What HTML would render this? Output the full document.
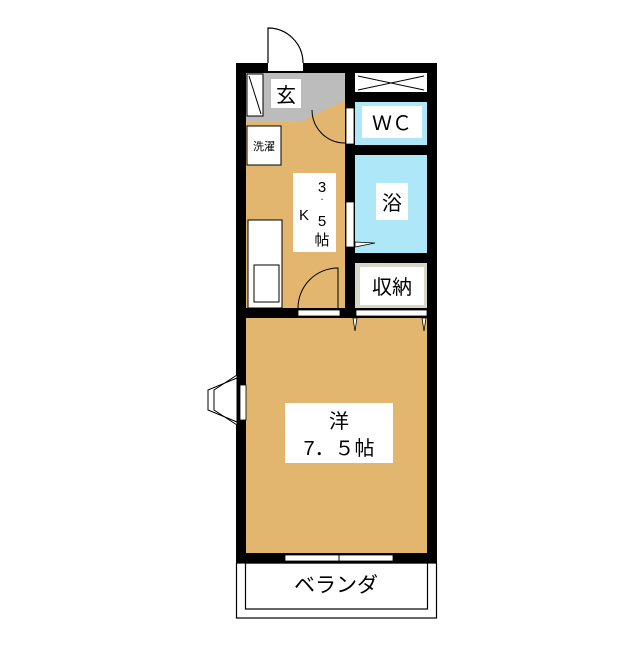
<!DOCTYPE html>
<html><head><meta charset="utf-8"><style>
body{margin:0;background:#fff;}
svg text{font-family:"Liberation Sans","Noto Sans CJK JP",sans-serif;}
</style></head><body>
<svg width="640" height="640" viewBox="0 0 640 640" xmlns="http://www.w3.org/2000/svg">
<rect width="640" height="640" fill="#fff"/>
<!-- floors -->
<rect x="246" y="73" width="99" height="240" fill="#e2b66e"/>
<rect x="246" y="318" width="181" height="235" fill="#e2b66e"/>
<polygon points="246,73 345,73 345,100 300,122 246,122" fill="#bcbcbc"/>
<rect x="355" y="102" width="72" height="43" fill="#aee8f8"/>
<rect x="355" y="155" width="72" height="98" fill="#aee8f8"/>
<rect x="355" y="263" width="72" height="47" fill="#d9d5c9"/>
<!-- closet X -->
<rect x="355" y="73" width="72" height="19" fill="#fff"/>
<line x1="358" y1="76" x2="424" y2="90" stroke="#000" stroke-width="1"/>
<line x1="358" y1="90" x2="424" y2="76" stroke="#000" stroke-width="1"/>
<!-- walls -->
<g fill="#000">
<rect x="236" y="63" width="201" height="10"/>
<rect x="236" y="63" width="10" height="500"/>
<rect x="427" y="63" width="10" height="500"/>
<rect x="345" y="63" width="10" height="255"/>
<rect x="355" y="92" width="72" height="10"/>
<rect x="355" y="145" width="72" height="10"/>
<rect x="355" y="253" width="72" height="10"/>
<rect x="236" y="308" width="201" height="10"/>
<rect x="236" y="553" width="201" height="10"/>
</g>
<!-- entry door -->
<rect x="268" y="63" width="35" height="8" fill="#fff"/>
<path d="M268 63 V28 A35 35 0 0 1 303 63" fill="#fff" stroke="#000" stroke-width="1.2"/>
<!-- genkan shoe box -->
<rect x="247" y="74" width="16" height="42" fill="#fff" stroke="#000" stroke-width="1"/>
<line x1="249" y1="76" x2="261" y2="114" stroke="#000"/>
<!-- WC door -->
<rect x="346" y="108" width="8" height="36" fill="#fff" stroke="#000" stroke-width="0.8"/>
<path d="M345 143 A33 33 0 0 1 312 110" fill="none" stroke="#000" stroke-width="1"/>
<!-- bath door -->
<rect x="346" y="202" width="8" height="45" fill="#fff" stroke="#000" stroke-width="0.8"/>
<polygon points="355,242 375,243 355,247" fill="#fff" stroke="#000" stroke-width="0.8"/>
<!-- laundry -->
<rect x="247" y="126" width="34" height="39" fill="#fff" stroke="#000" stroke-width="1"/>
<text x="264" y="150" font-size="11" text-anchor="middle">洗濯</text>
<!-- kitchen counter -->
<rect x="248" y="220" width="34" height="88" fill="#fff" stroke="#000" stroke-width="1"/>
<rect x="254" y="265" width="25" height="37" fill="#fff" stroke="#000" stroke-width="1"/>
<!-- K door -->
<rect x="298" y="310" width="42" height="6" fill="#fff" stroke="#000" stroke-width="0.8"/>
<path d="M298 308 A40 40 0 0 1 338 268 V308" fill="none" stroke="#000" stroke-width="1"/>
<!-- storage doors -->
<rect x="356" y="310" width="71" height="6" fill="#fff" stroke="#000" stroke-width="0.8"/>
<polygon points="353,318 357,318 355,331" fill="#fff" stroke="#000" stroke-width="0.8"/>
<polygon points="422,318 426,318 424,331" fill="#fff" stroke="#000" stroke-width="0.8"/>
<!-- bay window -->
<rect x="240" y="385" width="6" height="35" fill="#fff" stroke="#000" stroke-width="0.8"/>
<polygon points="237,375 214,390 214,410 237,425" fill="#fff" stroke="#000" stroke-width="1"/>
<polyline points="237,378 208,390 208,410 237,422" fill="none" stroke="#000" stroke-width="1"/>
<line x1="214" y1="390" x2="214" y2="410" stroke="#000"/>
<!-- south window -->
<rect x="285" y="555" width="108" height="6" fill="#fff" stroke="#000" stroke-width="0.8"/>
<line x1="339" y1="553" x2="339" y2="563" stroke="#000"/>
<!-- veranda -->
<rect x="236.5" y="563" width="200" height="55" fill="none" stroke="#000" stroke-width="1.2"/>
<rect x="245.5" y="563" width="182" height="46" fill="none" stroke="#000" stroke-width="1.2"/>
<text x="336" y="592" font-size="21" text-anchor="middle">ベランダ</text>
<!-- labels -->
<rect x="271" y="79" width="30" height="29" fill="#fff"/>
<text x="286" y="102" font-size="20" text-anchor="middle">玄</text>
<rect x="362" y="106" width="60" height="32" fill="#fff"/>
<text x="392" y="130" font-size="20" text-anchor="middle">ＷＣ</text>
<rect x="376" y="183" width="32" height="37" fill="#fff"/>
<text x="392" y="210" font-size="20" text-anchor="middle">浴</text>
<rect x="360" y="267" width="64" height="38" fill="#fff"/>
<text x="392" y="294" font-size="20" text-anchor="middle">収納</text>
<rect x="293" y="173" width="43" height="79" fill="#fff"/>
<text x="322" y="192" font-size="15" text-anchor="middle">3</text>
<text x="322" y="200" font-size="10" text-anchor="middle">.</text>
<text x="304" y="220" font-size="15" text-anchor="middle">K</text>
<text x="322" y="226" font-size="15" text-anchor="middle">5</text>
<text x="322" y="245" font-size="15" text-anchor="middle">帖</text>
<rect x="285" y="403" width="108" height="60" fill="#fff"/>
<text x="339" y="428" font-size="20" text-anchor="middle">洋</text>
<text x="339" y="455" font-size="20" text-anchor="middle">7．５帖</text>
</svg>
</body></html>
